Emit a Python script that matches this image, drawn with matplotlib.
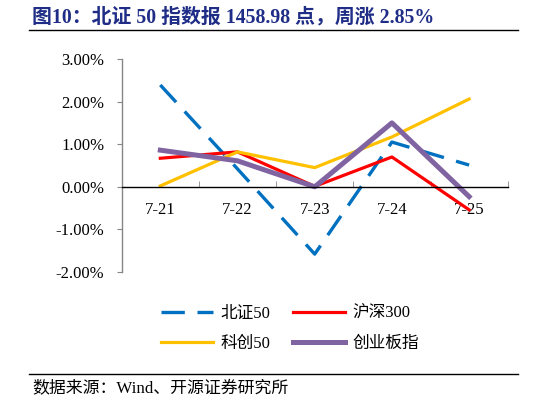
import numpy as np
import matplotlib
matplotlib.use('Agg')
import matplotlib.pyplot as plt
from matplotlib.lines import Line2D
from matplotlib.ticker import FuncFormatter

plt.rcParams['font.family'] = ['Liberation Serif', 'Noto Sans CJK SC', 'DejaVu Sans']

# daily returns (%)
dates = ['7-21', '7-22', '7-23', '7-24', '7-25']
bz50 = [2.39, 0.42, -1.58, 1.05, 0.51]
hs300 = [0.67, 0.82, 0.01, 0.70, -0.54]
kc50 = [0.02, 0.82, 0.45, 1.17, 2.06]
cybz = [0.86, 0.61, 0.00, 1.50, -0.23]
yticks = [-2, -1, 0, 1, 2, 3]

title = '图10：北证 50 指数报 1458.98 点，周涨 2.85%'
source = '数据来源：Wind、开源证券研究所'

W, H = 546, 404
fig = plt.figure(figsize=(W / 100, H / 100), dpi=100)
ax = fig.add_axes([121.7 / W, 1 - 272 / H, 386 / W, 213 / H])

x = np.arange(len(dates))
l1, = ax.plot(x, bz50, color='#0070C0', lw=2.4, label='北证50')
l1.set_dashes((7, 3.8))
l2, = ax.plot(x, hs300, color='#FF0000', lw=2.3, label='沪深300')
l3, = ax.plot(x, kc50, color='#FFC000', lw=2.3, label='科创50')
l4, = ax.plot(x, cybz, color='#8064A2', lw=3.6, label='创业板指')

ax.set_xlim(-0.5, len(dates) - 0.5)
ax.set_ylim(-2, 3)

# axes styling
for s in ['top', 'right']:
    ax.spines[s].set_visible(False)
ax.spines['bottom'].set_position(('data', 0))
ax.spines['bottom'].set_color('black')
ax.spines['bottom'].set_linewidth(1.0)
ax.spines['left'].set_color('#868686')
ax.spines['left'].set_linewidth(1.0)

ax.set_yticks(yticks)
ax.yaxis.set_major_formatter(FuncFormatter(lambda v, p: f'{v:.2f}%'))
ax.tick_params(axis='y', direction='out', length=3.5, color='#868686',
               labelsize=12, pad=9)

ax.set_xticks(x)
ax.set_xticklabels(dates)
ax.set_xticks(np.arange(len(dates) + 1) - 0.5, minor=True)
ax.tick_params(axis='x', which='major', length=0, labelsize=12, pad=11)
ax.tick_params(axis='x', which='minor', direction='in', length=4, color='#868686')

ax.legend(handles=[l1, l3, l2, l4], ncol=2, loc='center',
          bbox_to_anchor=(290 / W, 1 - 329 / H), bbox_transform=fig.transFigure,
          frameon=False, fontsize=12, handlelength=3.1, handletextpad=0.45,
          columnspacing=1.4, labelspacing=0.85)

# title, rules and source note
fig.text(32 / W, 1 - 17 / H, title, fontsize=14.3, fontweight='bold',
         color='#1F2D86', va='center', ha='left')
fig.add_artist(Line2D([29 / W, 518 / W], [1 - 30 / H] * 2, color='black', lw=1))
fig.add_artist(Line2D([29 / W, 518 / W], [1 - 374 / H] * 2, color='black', lw=1))
fig.text(32 / W, 1 - 388 / H, source, fontsize=12.2, va='center', ha='left')

fig.savefig('out.png', dpi=100)
